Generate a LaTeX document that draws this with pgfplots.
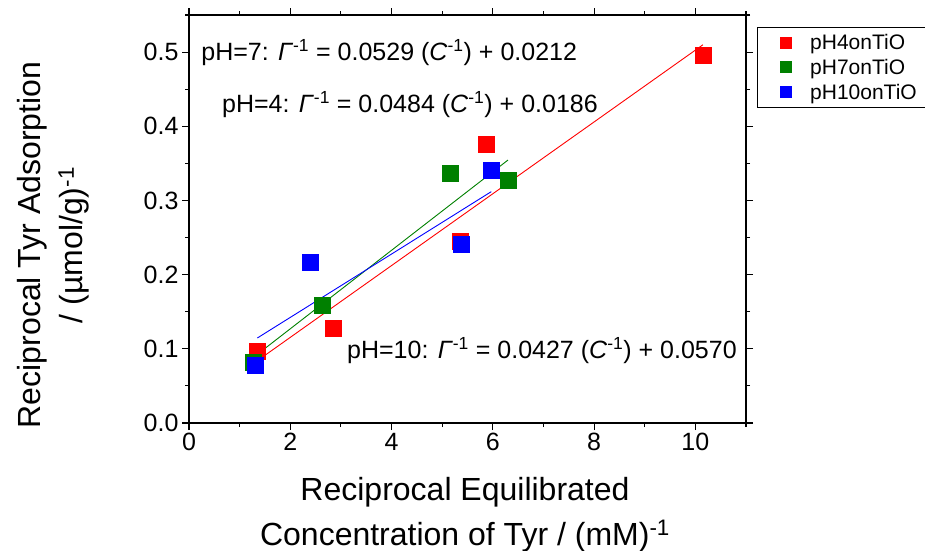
\documentclass[border=0pt]{standalone}
\usepackage{fontspec}
\setmainfont{Liberation Sans}
\usepackage{pgfplots}
\pgfplotsset{compat=1.18}
\definecolor{pgreen}{RGB}{0,128,0}
\definecolor{pred}{RGB}{255,0,0}
\definecolor{pblue}{RGB}{0,0,255}
\begin{document}
\begin{tikzpicture}[x=1pt,y=1pt]
\useasboundingbox (-189,-127) rectangle (736,423);
\begin{axis}[
  at={(0,0)}, anchor=south west,
  scale only axis, width=557pt, height=408pt,
  xmin=0, xmax=11, ymin=0, ymax=0.55,
  xtick={0,2,4,6,8,10}, ytick={0,0.1,0.2,0.3,0.4,0.5},
  minor xtick={1,3,5,7,9,11}, minor ytick={0.05,0.15,0.25,0.35,0.45,0.55},
  tick align=outside, major tick length=7pt, minor tick length=4pt,
  /pgf/number format/assume math mode=true,
  yticklabel style={/pgf/number format/.cd, fixed, fixed zerofill, precision=1},
  ticklabel style={font=\fontsize{25}{29}\selectfont},
  axis line style={line width=1.3pt},
  every tick/.style={black, line width=1.1pt},
  clip=false,
  legend style={at={(1.0197,0.9706)}, anchor=north west, draw=black, line width=0.8pt,
    font=\fontsize{21}{23}\selectfont, inner xsep=10pt, inner ysep=5pt, row sep=4pt,
    cells={anchor=west}},
  legend image code/.code={\path (0pt,-6pt) (40pt,6pt); \draw[mark size=5.5pt,#1] plot coordinates {(18pt,0pt)};},
]
% fit lines
\addplot[forget plot, pred, line width=0.9pt] coordinates {(1.40,0.0864) (10.15,0.5099)};
\addplot[forget plot, pgreen, line width=0.9pt] coordinates {(1.25,0.0873) (6.30,0.3545)};
\addplot[forget plot, pblue, line width=0.9pt] coordinates {(1.35,0.1146) (5.97,0.3119)};
% data
\addplot[only marks, mark=square*, mark size=8pt, color=pred, mark options={draw=pred, fill=pred, line width=0pt}] coordinates {
(10.16,0.496) (5.87,0.375) (5.36,0.245) (2.85,0.127) (1.36,0.096)};
\addlegendentry{pH4onTiO}
\addplot[only marks, mark=square*, mark size=8pt, color=pgreen, mark options={draw=pgreen, fill=pgreen, line width=0pt}] coordinates {
(6.30,0.327) (5.16,0.336) (2.63,0.159) (1.28,0.082)};
\addlegendentry{pH7onTiO}
\addplot[only marks, mark=square*, mark size=8pt, color=pblue, mark options={draw=pblue, fill=pblue, line width=0pt}] coordinates {
(5.97,0.341) (5.38,0.241) (2.39,0.216) (1.32,0.078)};
\addlegendentry{pH10onTiO}
% equations
\node[anchor=west, font=\fontsize{25}{29}\selectfont, inner sep=0pt] at (axis cs:0.24,0.500) {pH=7: \textit{Γ}\textsuperscript{-1} = 0.0529 (\textit{C}\textsuperscript{-1}) + 0.0212};
\node[anchor=west, font=\fontsize{25}{29}\selectfont, inner sep=0pt] at (axis cs:0.65,0.429) {pH=4: \textit{Γ}\textsuperscript{-1} = 0.0484 (\textit{C}\textsuperscript{-1}) + 0.0186};
\node[anchor=west, font=\fontsize{25}{29}\selectfont, inner sep=0pt] at (axis cs:3.12,0.098) {pH=10: \textit{Γ}\textsuperscript{-1} = 0.0427 (\textit{C}\textsuperscript{-1}) + 0.0570};
\end{axis}
% axis labels
\node[anchor=base, font=\fontsize{32}{36}\selectfont, inner sep=0pt] at (276,-77) {Reciprocal Equilibrated};
\node[anchor=base, font=\fontsize{32}{36}\selectfont, inner sep=0pt] at (276,-122) {Concentration of Tyr / (mM)\textsuperscript{-1}};
\node[anchor=base, rotate=90, font=\fontsize{32}{36}\selectfont, inner sep=0pt] at (-148,178) {Reciprocal Tyr Adsorption};
\node[anchor=base, rotate=90, font=\fontsize{32}{36}\selectfont, inner sep=0pt] at (-106,178) {/ (µmol/g)\textsuperscript{-1}};
\end{tikzpicture}
\end{document}
